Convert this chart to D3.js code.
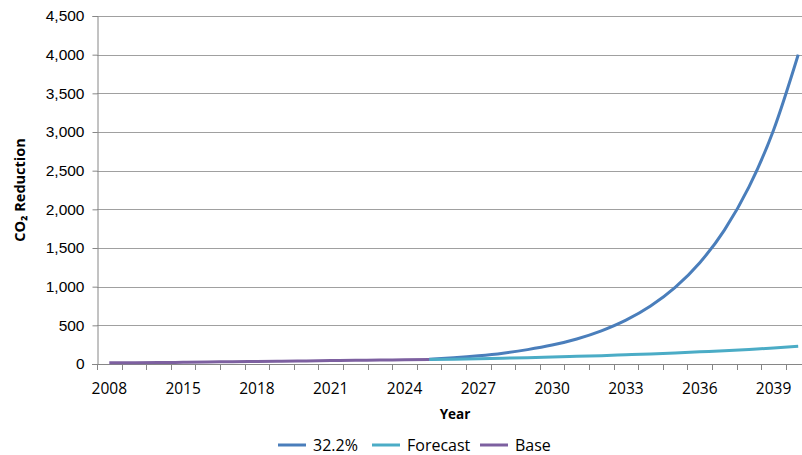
<!DOCTYPE html>
<html>
<head>
<meta charset="utf-8">
<script src="https://cdn.jsdelivr.net/npm/d3@7/dist/d3.min.js"></script>
<style>
  body { margin: 0; background: #fff; }
  svg { display: block; font-family: "Open Sans", "Noto Sans", sans-serif; }
</style>
</head>
<body>
<script>
(function () {

// categories (years) on the x axis
var years = ["2008", "2010", "2012", "2015", "2016", "2017", "2018", "2019", "2020",
  "2021", "2022", "2023", "2024", "2025", "2026", "2027", "2028", "2029", "2030",
  "2031", "2032", "2033", "2034", "2035", "2036", "2037", "2038", "2039", "2040"];

// values
var baseYears = ["2008", "2010", "2012", "2015", "2016", "2017", "2018", "2019", "2020",
  "2021", "2022", "2023", "2024", "2025"];
var baseValues = [15, 17, 19, 22, 25, 30, 33, 36, 40, 44, 48, 51, 54, 57];

var forecastYears = ["2025", "2026", "2027", "2028", "2029", "2030", "2031", "2032",
  "2033", "2034", "2035", "2036", "2037", "2038", "2039", "2040"];
var forecastValues = [57, 62, 68, 75, 82, 90, 99, 108, 119, 130, 143, 157, 172, 189, 207, 228];

var growthYears = forecastYears;
var growthValues = [60, 80, 106, 140, 186, 245, 324, 429, 567, 750, 991, 1310, 1732, 2290, 3027, 4000];

var yTicks = [0, 500, 1000, 1500, 2000, 2500, 3000, 3500, 4000, 4500];
var xLabels = ["2008", "2015", "2018", "2021", "2024", "2027", "2030", "2033", "2036", "2039"];

var series = [
  { name: "32.2%", color: "#4a7ebb", years: growthYears, values: growthValues },
  { name: "Forecast", color: "#4bacc6", years: forecastYears, values: forecastValues },
  { name: "Base", color: "#7d60a0", years: baseYears, values: baseValues }
];

var width = 802;
var height = 455;

var svg = d3.select("body")
  .append("svg")
    .attr("width", width)
    .attr("height", height);

var x = d3.scaleBand()
  .domain(years)
  .range([97, 810.5])
  .padding(0);

var y = d3.scaleLinear()
  .domain([0, 4500])
  .range([364, 16]);

var axisColor = "#868686";

// gridlines
svg.append("g")
  .selectAll("line")
  .data(yTicks.slice(1))
  .enter()
  .append("line")
    .attr("x1", 97)
    .attr("x2", width)
    .attr("y1", function(d) { return Math.round(y(d)) + 0.5; })
    .attr("y2", function(d) { return Math.round(y(d)) + 0.5; })
    .attr("stroke", "#a0a0a0")
    .attr("stroke-width", 1);

// y axis
var yAxis = svg.append("g")
  .attr("transform", "translate(97.5,0)")
  .call(d3.axisLeft(y)
    .tickValues(yTicks)
    .tickSize(5)
    .tickPadding(8)
    .tickFormat(d3.format(",")));
yAxis.select(".domain").attr("stroke", axisColor);
yAxis.selectAll(".tick line").attr("stroke", axisColor);
yAxis.selectAll(".tick text")
  .attr("fill", "#000")
  .style("font-size", "15.5px");

// x axis line
svg.append("line")
  .attr("x1", 92)
  .attr("x2", width)
  .attr("y1", 364.5)
  .attr("y2", 364.5)
  .attr("stroke", axisColor);

// x tick marks between categories
svg.append("g")
  .selectAll("line")
  .data(years)
  .enter()
  .append("line")
    .attr("x1", function(d) { return Math.round(x(d)) + 0.5; })
    .attr("x2", function(d) { return Math.round(x(d)) + 0.5; })
    .attr("y1", 364)
    .attr("y2", 370)
    .attr("stroke", axisColor);

// x labels
svg.append("g")
  .selectAll("text")
  .data(xLabels)
  .enter()
  .append("text")
    .attr("x", function(d) { return x(d) + x.bandwidth() / 2; })
    .attr("y", 394)
    .attr("text-anchor", "middle")
    .style("font-size", "15.5px")
    .text(function(d) { return d; });

// axis titles
svg.append("text")
  .attr("x", 455)
  .attr("y", 419)
  .attr("text-anchor", "middle")
  .style("font-size", "13.5px")
  .style("font-weight", "bold")
  .text("Year");

svg.append("text")
  .attr("transform", "translate(25,190) rotate(-90)")
  .attr("text-anchor", "middle")
  .style("font-size", "14.5px")
  .style("font-weight", "bold")
  .text("CO₂ Reduction");

// lines
var line = d3.line()
  .x(function(d) { return x(d.year) + x.bandwidth() / 2; })
  .y(function(d) { return y(d.value); })
  .curve(d3.curveMonotoneX);

series.forEach(function(s) {
  var pts = s.years.map(function(yr, i) { return { year: yr, value: s.values[i] }; });
  svg.append("path")
    .datum(pts)
    .attr("d", line)
    .attr("fill", "none")
    .attr("stroke", s.color)
    .attr("stroke-width", 3)
    .attr("stroke-linejoin", "round");
});

// legend
var legendX = [278, 372, 480];
var legend = svg.append("g")
  .selectAll("g")
  .data(series)
  .enter()
  .append("g")
    .attr("transform", function(d, i) { return "translate(" + legendX[i] + ",451)"; });

legend.append("line")
  .attr("x1", 0)
  .attr("x2", 28)
  .attr("y1", -6)
  .attr("y2", -6)
  .attr("stroke", function(d) { return d.color; })
  .attr("stroke-width", 3);

legend.append("text")
  .attr("x", 35)
  .attr("y", 0)
  .style("font-size", "16px")
  .text(function(d) { return d.name; });

}());
</script>
</body>
</html>
